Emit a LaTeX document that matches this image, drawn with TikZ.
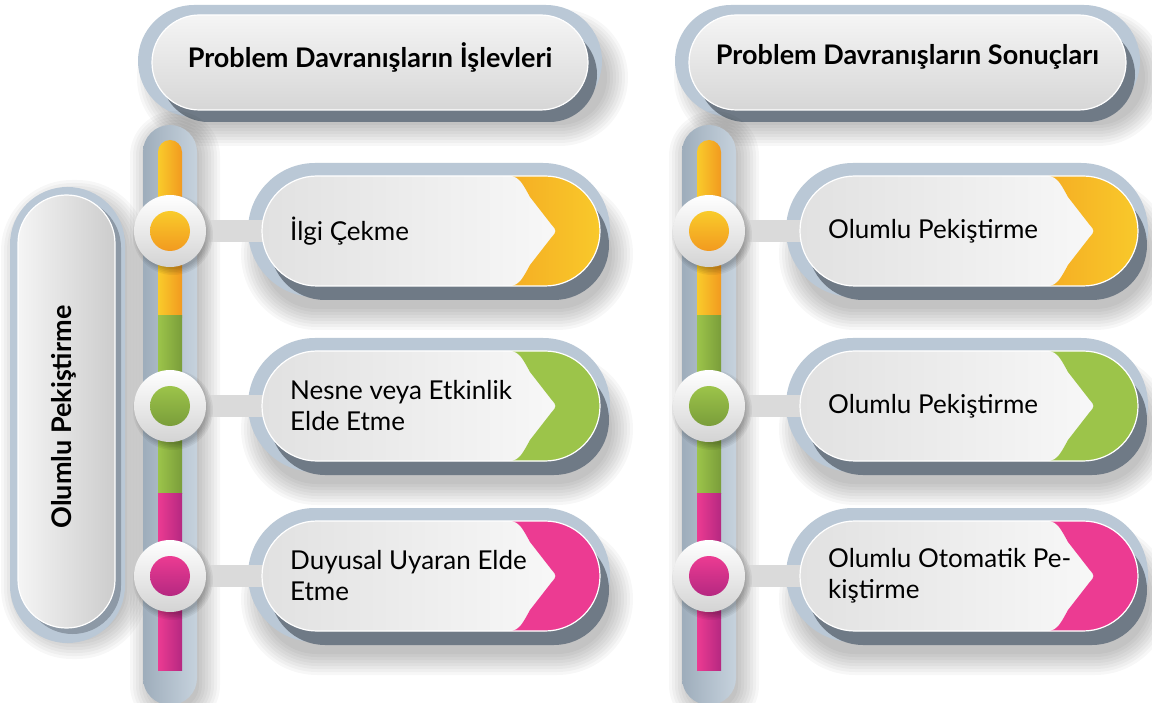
\documentclass[tikz,border=0pt]{standalone}
\usepackage{fontspec}
\setmainfont{Lato}
\definecolor{rim}{HTML}{BAC8D6}
\definecolor{rimL}{HTML}{9EADBB}
\definecolor{rimR}{HTML}{C6D2DD}
\definecolor{rimdark}{HTML}{6F7A86}
\definecolor{connc}{HTML}{DADADA}
\definecolor{inL}{HTML}{E1E1E1}
\definecolor{inR}{HTML}{FBFBFB}
\definecolor{yA}{HTML}{F29A1F}
\definecolor{yB}{HTML}{F9CB2B}
\definecolor{gA}{HTML}{7A9D3A}
\definecolor{gB}{HTML}{9CC44A}
\definecolor{pA}{HTML}{B52881}
\definecolor{pB}{HTML}{EC3B92}
\pgfdeclarelayer{bgwhite}
\pgfdeclarelayer{back}
\pgfdeclarelayer{mid}
\pgfsetlayers{bgwhite,back,mid,main}
\tikzset{
  cardtext/.style={anchor=west,align=left,inner sep=0pt,font=\fontsize{26}{31}\selectfont,text=black},
  headtext/.style={inner sep=0pt,font=\fontsize{27}{30}\selectfont\bfseries,text=black},
  outercirc/.style={circle,minimum size=72pt,inner sep=0pt,top color=white,bottom color=black!17},
  connline/.style={connc,line width=22pt},
  softpart/.style={fill=black,fill opacity=0.032},
}
% soft shadow: #1 x1, #2 y1, #3 x2, #4 y2, #5 radius, #6 dx, #7 dy
\newcommand\mysoft[7]{%
  \foreach \e in {0,3,...,21} {
    \path[softpart,rounded corners={#5+\e}] (#1-\e+#6,#2-\e+#7) rectangle (#3+\e+#6,#4+\e+#7);
  }%
}
% #1 inner left x, #2 centre y, #3 colour left, #4 colour right, #5 name, #6 text
\newcommand\mycard[6]{%
  \begin{pgfonlayer}{back}
    \mysoft{#1-10}{#2-50}{#1+340}{#2+60}{55}{10}{18}
    \path[fill=rim,rounded corners=67pt] (#1-14,#2-68) rectangle (#1+348,#2+66);
    \fill[rimdark,rounded corners=55pt] (#1+8,#2-41) rectangle (#1+347,#2+69);
  \end{pgfonlayer}
  \path[rounded corners=55pt,left color=inL,right color=inR] (#1,#2-55) rectangle (#1+338,#2+55);
  \begin{scope}
    \clip[rounded corners=55pt] (#1,#2-55) rectangle (#1+338,#2+55);
    \path[left color=#3,right color=#4] (#1+231,#2-56) .. controls (#1+256,#2-56) .. (#1+268,#2-34)
      -- (#1+289,#2-7) .. controls (#1+295,#2) .. (#1+289,#2+7) -- (#1+268,#2+34)
      .. controls (#1+256,#2+56) .. (#1+231,#2+56) -- (#1+345,#2+56) -- (#1+345,#2-56) -- cycle;
  \end{scope}
  \draw[white,line width=1.2pt,rounded corners=55pt] (#1,#2-55) rectangle (#1+338,#2+55);
  \coordinate (#5) at (#1+2,#2);
  \node[cardtext] (#5t) at (#1+28,#2) {#6};
}
% #1 rim left, #2 rim right, #3 name, #4 text
\newcommand\myhead[4]{%
  \begin{pgfonlayer}{back}
    \mysoft{#1+10}{15}{#2-5}{110}{47.5}{10}{15}
    \path[fill=rim,rounded corners=56pt] (#1,5) rectangle (#2,117);
    \fill[rimdark,rounded corners=47.5pt] (#1+23,27) rectangle (#2-5,122);
  \end{pgfonlayer}
  \path[rounded corners=47.5pt,top color=white!96!black,bottom color=white!84!black,draw=white,line width=1.2pt] (#1+14,15) rectangle (#2-14,110);
  \node[headtext] (#3) at ({(#1+#2)/2},57) {#4};
}
% #1 bar centre x
\newcommand\mybar[1]{%
  \begin{pgfonlayer}{back}
    \mysoft{#1-24}{128}{#1+24}{705}{24}{5}{4}
    \path[rounded corners=27pt,left color=rimL,right color=rimR] (#1-27,125) rectangle (#1+27,705);
    \path[rounded corners=12pt,left color=yB,right color=yA] (#1-12,140) rectangle (#1+12,330);
    \path[left color=gB,right color=gA] (#1-12,316) rectangle (#1+12,493);
    \path[left color=pB,right color=pA] (#1-12,493) rectangle (#1+12,670);
  \end{pgfonlayer}
}
% #1 x, #2 y, #3 name, #4 top colour, #5 bottom colour
\newcommand\myball[5]{%
  \foreach \e in {0,1.5,...,6} { \fill[black,fill opacity=0.05] (#1+3,#2+4) circle ({34+\e}); }
  \node[outercirc] (#3) at (#1,#2) {};
  \node[circle,minimum size=40pt,inner sep=0pt,top color=#4,bottom color=#5] (#3b) at (#3) {};
}
\begin{document}
\begin{tikzpicture}[x=1pt,y=-1pt]
\begin{pgfonlayer}{bgwhite}
  \fill[white] (0,0) rectangle (1152,703);
\end{pgfonlayer}
\useasboundingbox (0,0) rectangle (1152,703);

% headers
\myhead{138}{602}{h1}{Problem Davranışların İşlevleri}
\myhead{675}{1140}{h2}{Problem Davranışların Sonuçları}

% left vertical label
\begin{pgfonlayer}{back}
  \mysoft{16}{193}{121}{630}{50}{6}{8}
  \path[fill=rim,rounded corners=57.5pt] (10,187) rectangle (125,643);
  \fill[rimdark!60!rim,rounded corners=48.5pt] (24,199) rectangle (121,634);
\end{pgfonlayer}
\path[rounded corners=48.5pt,left color=white!96!black,right color=white!80!black,draw=white,line width=1.2pt] (18,195) rectangle (115,628);
\node[headtext,rotate=90] (v) at (64,417) {Olumlu Pekiştirme};

% bars
\mybar{170}
\mybar{709}

% cards
\mycard{262}{231}{yA!70!yB}{yB}{k1}{İlgi Çekme}
\mycard{262}{406}{gB}{gB}{k2}{Nesne veya Etkinlik\\Elde Etme}
\mycard{262}{576}{pB}{pB}{k3}{Duyusal Uyaran Elde\\Etme}
\mycard{800}{231}{yA!70!yB}{yB}{k4}{Olumlu Pekiştirme}
\mycard{800}{406}{gB}{gB}{k5}{Olumlu Pekiştirme}
\mycard{800}{576}{pB}{pB}{k6}{Olumlu Otomatik Pe-\\kiştirme}

% balls
\myball{170}{231}{c1}{yB}{yA}
\myball{170}{406}{c2}{gB}{gA}
\myball{170}{576}{c3}{pB}{pA}
\myball{709}{231}{c4}{yB}{yA}
\myball{709}{406}{c5}{gB}{gA}
\myball{709}{576}{c6}{pB}{pA}

% connectors
\begin{pgfonlayer}{mid}
  \foreach \i in {1,...,6} { \draw[connline] (c\i.center) -- (k\i); }
\end{pgfonlayer}
\end{tikzpicture}
\end{document}
